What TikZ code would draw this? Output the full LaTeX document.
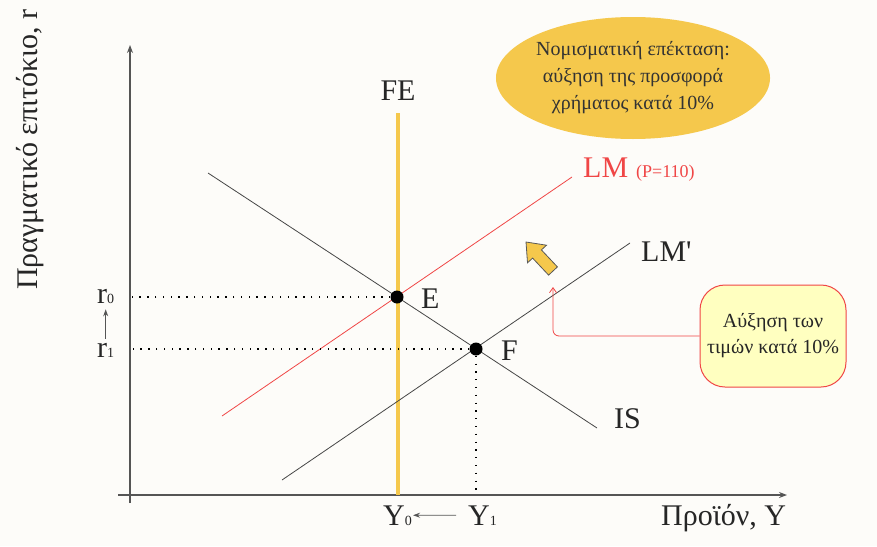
\documentclass[tikz,border=0pt]{standalone}
\usepackage{fontspec}
\setmainfont{Liberation Serif}
\usetikzlibrary{arrows.meta, shapes.geometric}

\definecolor{bgcream}{RGB}{253,252,249}
\definecolor{gold}{RGB}{245,200,76}
\definecolor{lmred}{RGB}{240,70,70}
\definecolor{calloutfill}{RGB}{255,255,192}
\definecolor{axisgray}{RGB}{85,85,85}
\definecolor{curvegray}{RGB}{70,70,70}

\begin{document}
\begin{tikzpicture}[
    x=1pt, y=-1pt,
    >={Stealth[length=8pt, width=6pt]},
    big/.style={font=\fontsize{30}{34}\selectfont, inner sep=1pt, text=black!85},
    bigw/.style={big, anchor=base west},
    axis/.style={draw=axisgray, line width=1.2pt},
    curve/.style={draw=curvegray, line width=0.8pt},
    dotline/.style={draw=black, line width=1.5pt, dash pattern=on 1.3pt off 6.5pt},
    eqdot/.style={circle, fill=black, minimum size=13pt, inner sep=0pt},
    policy/.style={ellipse, fill=gold, minimum width=243pt, minimum height=122pt, inner sep=0pt, align=center, font=\fontsize{20}{27}\selectfont, text=black!80},
    callout/.style={draw=lmred, line width=1pt, fill=calloutfill, rounded corners=25pt, minimum width=146pt, minimum height=102pt, inner sep=2pt, align=center, font=\fontsize{20}{26}\selectfont, text=black!85},
    callline/.style={draw=lmred, line width=0.8pt, rounded corners=6pt, -{Straight Barb[length=5pt, width=7pt]}},
    smallarrow/.style={->, line width=0.8pt, draw=axisgray, >={Stealth[length=7pt, width=5pt]}}
]

% Background
\fill[bgcream] (0,0) rectangle (877,546);
\useasboundingbox (0,0) rectangle (877,546);

% Axes
\coordinate (O) at (130,495);
\draw[axis, ->] (130,503) -- (130,45);
\draw[axis, ->] (118,495) -- (787,495);

% Axis labels
\node[big, rotate=90, anchor=base west, inner sep=0pt] (ylab) at (37,290) {Πραγματικό επιτόκιο, r};
\node[bigw] (xlab) at (660,525) {Προϊόν, Y};

% FE line
\draw[draw=gold, line width=4pt] (398,113) -- (398,495);
\node[big, anchor=base] (fe) at (398,100) {FE};

% IS, LM, LM'
\draw[curve] (208,173) -- (597,428);
\draw[curve] (282,480) -- (630,243);
\draw[draw=lmred, line width=0.8pt] (222,416) -- (572,177);

\node[bigw] (is) at (613,428) {IS};
\node[bigw] (lmp) at (640,261) {LM\textquotesingle};
\node[bigw, text=lmred] (lm) at (582,177) {LM\hspace{8pt}{\fontsize{18}{18}\selectfont(P=110)}};

% Equilibria
\node[eqdot] (E) at (397,297) {};
\node[eqdot] (F) at (476,349) {};
\node[bigw] (elab) at (420,308) {E};
\node[bigw] (flab) at (500,360) {F};

\draw[dotline] (E) -- (E -| O);
\draw[dotline] (F) -- (F -| O);
\draw[dotline] (F) -- (F |- O);

% Tick labels
\node[bigw] (r0) at (96,303) {r{\fontsize{14}{14}\selectfont 0}};
\node[bigw] (r1) at (96,357) {r{\fontsize{14}{14}\selectfont 1}};
\node[bigw] (y0) at (382,525) {Y{\fontsize{14}{14}\selectfont 0}};
\node[bigw] (y1) at (467,525) {Y{\fontsize{14}{14}\selectfont 1}};

\draw[smallarrow, shorten <=3pt, shorten >=5pt] (r1) -- (r0);
\draw[smallarrow, shorten <=11pt, shorten >=0pt] (y1) -- (y0);

% Monetary expansion
\node[policy] (policy) at (633,78) {Νομισματική επέκταση:\\αύξηση της προσφορά\\χρήματος κατά 10\%};

% Shift arrow
\filldraw[fill=gold, draw=gray!70!black, line width=0.8pt]
  (526,242) -- (546.5,245.2) -- (541.4,249.9) -- (557.4,266.9)
  -- (548.6,275.1) -- (532.6,258.1) -- (527.5,262.8) -- cycle;

% Price rise
\node[callout] (prices) at (773,336) {Αύξηση των\\τιμών κατά 10\%};
\coordinate (lmtip) at (553,287);
\draw[callline] (prices.west) -| (lmtip);

\end{tikzpicture}
\end{document}
